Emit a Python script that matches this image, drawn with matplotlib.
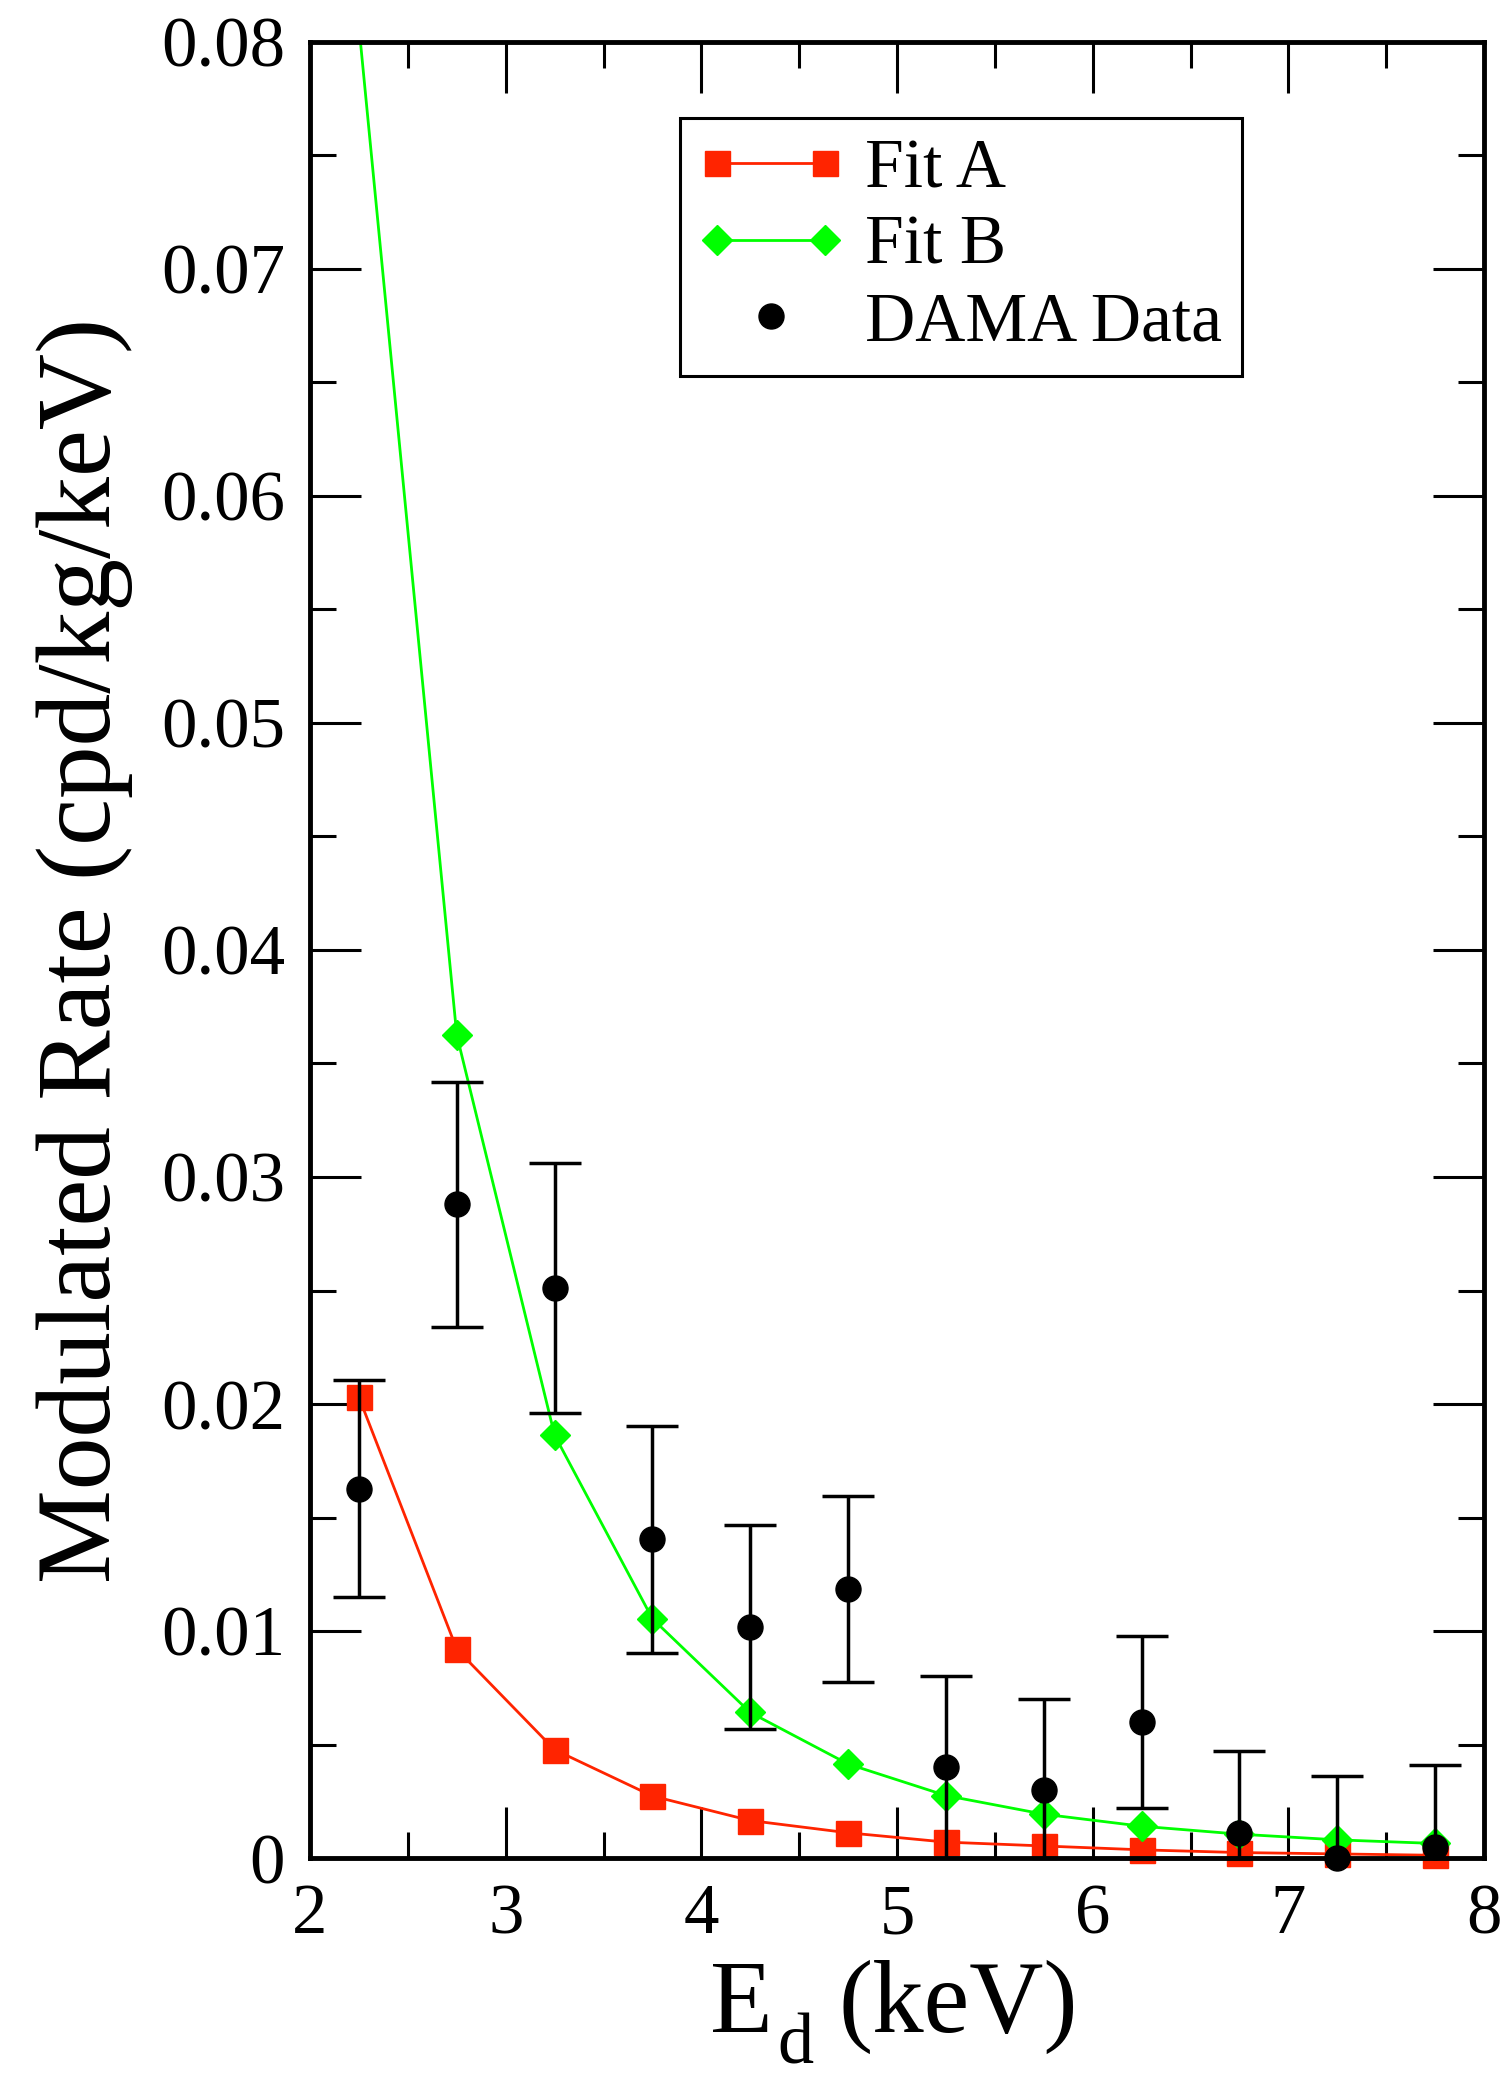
import matplotlib
matplotlib.use('Agg')
import matplotlib.pyplot as plt
from matplotlib.ticker import MultipleLocator, FuncFormatter
from matplotlib.legend_handler import HandlerLine2D

# donnees
energy = [2.25, 2.75, 3.25, 3.75, 4.25, 4.75, 5.25, 5.75, 6.25, 6.75, 7.25, 7.75]
fit_a = [0.0203, 0.0092, 0.00477, 0.00273, 0.00165, 0.00111, 0.0007, 0.00053, 0.00036, 0.00024, 0.00018, 0.00012]
fit_b = [0.0807, 0.03626, 0.01863, 0.01054, 0.00641, 0.00414, 0.00275, 0.00193, 0.0014, 0.00105, 0.0008, 0.00064]
dama = [0.01627, 0.0288, 0.0251, 0.01405, 0.01018, 0.01185, 0.0040, 0.0030, 0.0060, 0.0011, 0.0000, 0.0005]
dama_err = [0.00477, 0.0054, 0.0055, 0.0050, 0.00449, 0.0041, 0.0040, 0.0040, 0.0038, 0.0036, 0.0036, 0.0036]

red = '#ff2400'
green = '#00ff00'

plt.rcParams['font.family'] = ['Liberation Serif', 'DejaVu Serif']

W, H = 1501., 2082.
fig = plt.figure(figsize=(W / 100, H / 100), dpi=100)
ax = fig.add_axes([310 / W, 1 - 1858 / H, 1174 / W, 1816 / H])

lA, = ax.plot(energy, fit_a, color=red, lw=2.0, marker='s', ms=18, mec=red, mfc=red,
              label='Fit A', clip_on=False, zorder=2)
lB, = ax.plot(energy, fit_b, color=green, lw=2.0, marker='D', ms=15, mec=green, mfc=green,
              label='Fit B', zorder=2)
ax.errorbar(energy, dama, yerr=dama_err, fmt='none', ecolor='black', elinewidth=2.5,
            capsize=19, capthick=2.5, zorder=3)
lD, = ax.plot(energy, dama, 'o', color='black', ms=18, label='DAMA Data', clip_on=False, zorder=4)

ax.set_xlim(2, 8)
ax.set_ylim(0, 0.08)
ax.xaxis.set_major_locator(MultipleLocator(1))
ax.xaxis.set_minor_locator(MultipleLocator(0.5))
ax.yaxis.set_major_locator(MultipleLocator(0.01))
ax.yaxis.set_minor_locator(MultipleLocator(0.005))
ax.yaxis.set_major_formatter(FuncFormatter(lambda v, p: '0' if abs(v) < 1e-9 else '%.2f' % v))

ax.tick_params(which='both', direction='in', top=True, right=True, width=2.2, labelsize=51, pad=18)
ax.tick_params(which='major', length=37)
ax.tick_params(which='minor', length=19)
for s in ax.spines.values():
    s.set_linewidth(3.5)

ax.set_ylabel('Modulated Rate (cpd/kg/keV)', fontsize=76)
ax.yaxis.set_label_coords(-0.1508, 0.5)

# E_d (keV) : indice d plus bas que le mathtext
fig.text(710 / W, 1 - 2032 / H, 'E', fontsize=74, ha='left', va='baseline')
fig.text(777 / W, 1 - 2064 / H, 'd', fontsize=52, ha='left', va='baseline')
fig.text(838 / W, 1 - 2032 / H, '(keV)', fontsize=74, ha='left', va='baseline')

leg = ax.legend(handles=[lA, lB, lD], loc='upper left', bbox_to_anchor=(0.315, 0.958),
                borderaxespad=0, fontsize=50, frameon=True, fancybox=False, framealpha=1,
                edgecolor='black', borderpad=0.29, labelspacing=0.19, handlelength=2.05,
                handletextpad=0.33,
                handler_map={lA: HandlerLine2D(numpoints=2, marker_pad=0.25),
                             lB: HandlerLine2D(numpoints=2, marker_pad=0.25),
                             lD: HandlerLine2D(numpoints=1)})
leg.get_frame().set_linewidth(2.2)

fig.savefig('out.png', dpi=100)
